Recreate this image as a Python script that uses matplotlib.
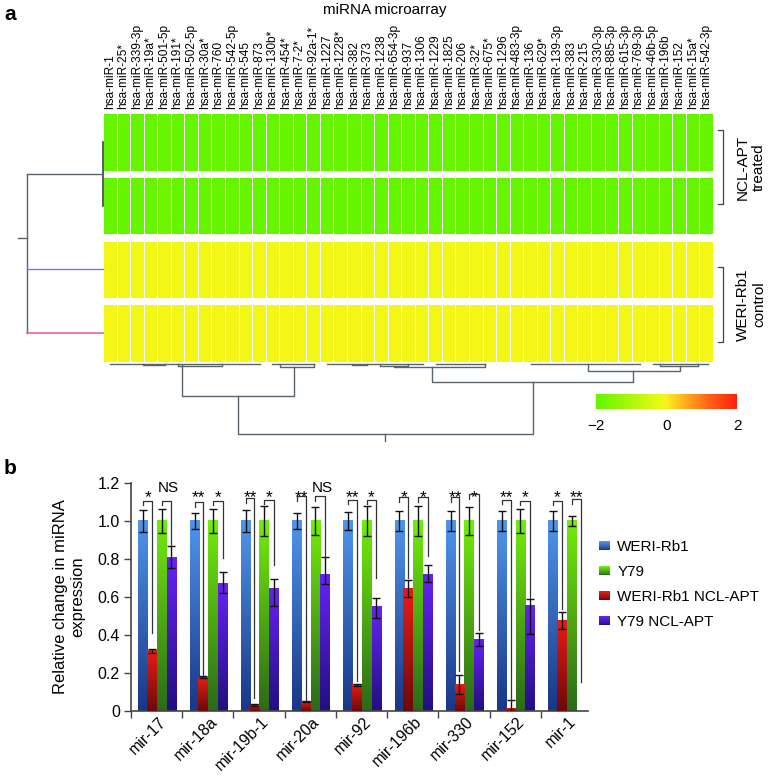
import numpy as np
import matplotlib
matplotlib.use("Agg")
import matplotlib.pyplot as plt
from matplotlib.colors import LinearSegmentedColormap
from matplotlib.patches import Rectangle
from matplotlib.legend_handler import HandlerBase
from matplotlib.transforms import ScaledTranslation

plt.rcParams['font.family'] = ['Liberation Sans', 'DejaVu Sans']

# ---- panel a : microarray heatmap ----
mirnas = ['hsa-miR-1', 'hsa-miR-25*', 'hsa-miR-339-3p', 'hsa-miR-19a*', 'hsa-miR-501-5p',
          'hsa-miR-191*', 'hsa-miR-502-5p', 'hsa-miR-30a*', 'hsa-miR-760', 'hsa-miR-542-5p',
          'hsa-miR-545', 'hsa-miR-873', 'hsa-miR-130b*', 'hsa-miR-454*', 'hsa-miR-7-2*',
          'hsa-miR-92a-1*', 'hsa-miR-1227', 'hsa-miR-1228*', 'hsa-miR-382', 'hsa-miR-373',
          'hsa-miR-1238', 'hsa-miR-654-3p', 'hsa-miR-937', 'hsa-miR-1306', 'hsa-miR-1229',
          'hsa-miR-1825', 'hsa-miR-206', 'hsa-miR-32*', 'hsa-miR-675*', 'hsa-miR-1296',
          'hsa-miR-483-3p', 'hsa-miR-136', 'hsa-miR-629*', 'hsa-miR-139-3p', 'hsa-miR-383',
          'hsa-miR-215', 'hsa-miR-330-3p', 'hsa-miR-885-3p', 'hsa-miR-615-3p', 'hsa-miR-769-3p',
          'hsa-miR-46b-5p', 'hsa-miR-196b', 'hsa-miR-152', 'hsa-miR-15a*', 'hsa-miR-542-3p']

treated_1 = [-1.95, -1.95, -1.95, -1.95, -1.93, -1.95, -1.95, -1.95, -1.95, -1.95,
             -1.95, -1.95, -1.95, -1.95, -1.95, -1.95, -1.95, -1.95, -1.95, -1.95,
             -1.95, -1.95, -1.95, -1.95, -1.95, -1.95, -1.95, -1.95, -1.95, -1.95,
             -1.95, -1.95, -1.95, -1.95, -1.95, -1.95, -1.95, -1.95, -1.95, -1.95,
             -1.95, -1.95, -1.95, -1.95, -1.95]
treated_2 = [-1.94, -1.94, -1.94, -1.94, -1.82, -1.94, -1.94, -1.94, -1.94, -1.94,
             -1.94, -1.94, -1.94, -1.94, -1.94, -1.94, -1.94, -1.94, -1.94, -1.94,
             -1.94, -1.94, -1.94, -1.94, -1.94, -1.94, -1.94, -1.94, -1.94, -1.94,
             -1.94, -1.94, -1.94, -1.94, -1.94, -1.94, -1.94, -1.94, -1.94, -1.94,
             -1.94, -1.94, -1.94, -1.94, -1.94]
control_1 = [-0.08, -0.08, -0.08, -0.08, -0.08, -0.08, -0.08, -0.08, -0.08, -0.08,
             -0.08, -0.08, -0.08, -0.08, -0.08, -0.08, -0.08, -0.08, -0.08, -0.08,
             -0.08, -0.08, -0.08, -0.08, -0.08, -0.08, -0.08, -0.08, -0.08, -0.08,
             -0.08, -0.08, -0.08, -0.08, -0.08, -0.08, -0.08, -0.08, -0.08, -0.08,
             -0.08, -0.08, -0.08, -0.08, -0.08]
control_2 = [-0.07, -0.07, -0.07, -0.07, -0.07, -0.07, -0.07, -0.07, -0.07, -0.07,
             -0.07, -0.07, -0.07, -0.07, -0.07, -0.07, -0.07, -0.07, -0.07, -0.07,
             -0.07, -0.07, -0.07, -0.07, -0.07, -0.07, -0.07, -0.07, -0.07, -0.07,
             -0.07, -0.07, -0.07, -0.07, -0.07, -0.07, -0.07, -0.07, -0.07, -0.07,
             -0.07, -0.07, -0.07, -0.07, -0.07]
row_groups = ['NCL-APT\ntreated', 'WERI-Rb1\ncontrol']

# column dendrogram links: (x left, x right, h left, h right, h top), x in columns
col_links = [(5.83, 14.09, 3, 5, 34), (9.96, 31.7, 34, 20, 72), (24.26, 39.1, 5, 9, 20),
             (35.8, 42.55, 2, 4, 9), (21.5, 28.2, 3.5, 2, 5), (2.95, 4.57, 2, 2, 3),
             (5.53, 8.78, 2, 2, 3.5), (13.05, 15.6, 2, 2, 4.5), (18.4, 19.5, 2, 2, 3),
             (20.4, 22.5, 2, 2, 3.5), (41.1, 43.9, 2, 2, 4)]
col_leaf_runs = [(0.5, 11.6), (12.5, 15.6), (16.5, 23.6), (24.6, 28.2), (31.6, 39.6), (40.6, 44.6)]
col_root = 79
row_link_height = 76
row_root = 85

# ---- panel b : qPCR bars ----
groups = ['mir-17', 'mir-18a', 'mir-19b-1', 'mir-20a', 'mir-92', 'mir-196b', 'mir-330', 'mir-152', 'mir-1']
weri = [1.0, 1.0, 1.0, 1.0, 1.0, 1.0, 1.0, 1.0, 1.0]
weri_err = [0.06, 0.044, 0.06, 0.044, 0.046, 0.053, 0.053, 0.053, 0.053]
y79 = [1.0, 1.0, 1.0, 1.0, 1.0, 1.0, 1.0, 1.0, 1.0]
y79_err = [0.064, 0.064, 0.077, 0.074, 0.077, 0.077, 0.074, 0.064, 0.024]
weri_apt = [0.317, 0.177, 0.033, 0.051, 0.138, 0.644, 0.138, 0.012, 0.475]
weri_apt_err = [0.01, 0.005, 0.005, 0.004, 0.006, 0.044, 0.05, 0.045, 0.045]
y79_apt = [0.81, 0.672, 0.647, 0.717, 0.551, 0.717, 0.375, 0.556, 0.0]
y79_apt_lo = [0.057, 0.052, 0.093, 0.049, 0.061, 0.04, 0.035, 0.15, 0.0]
y79_apt_hi = [0.057, 0.058, 0.048, 0.092, 0.043, 0.053, 0.035, 0.035, 0.0]

sig_1 = ['*', '**', '**', '**', '**', '*', '**', '**', '*']
sig_2 = ['NS', '*', '*', 'NS', '*', '*', '*', '*', '**']
br1_top = [1.107, 1.10, 1.12, 1.13, 1.112, 1.125, 1.125, 1.112, 1.107]
br1_end = [0.41, 0.19, 0.07, 0.06, 0.16, 0.70, 0.21, 0.054, 0.538]
br2_top = [1.107, 1.107, 1.112, 1.13, 1.112, 1.125, 1.14, 1.107, 1.117]
br2_end = [0.867, 0.807, 0.77, 0.81, 0.70, 0.814, 0.428, 0.595, 0.152]
yticks = [0, 0.2, 0.4, 0.6, 0.8, 1.0, 1.2]
ytick_labels = ['0', '0.2', '0.4', '0.6', '0.8', '1.0', '1.2']

W, H = 769, 776
fig = plt.figure(figsize=(W / 100, H / 100), dpi=100)


def box(x0, y0, x1, y1):
    # pixel box (top-left origin) -> figure fraction rect
    return [x0 / W, 1 - y1 / H, (x1 - x0) / W, (y1 - y0) / H]


line_col = '#59636b'
hm_cmap = LinearSegmentedColormap.from_list('hm', [(0, '#62f500'), (0.47, '#eefa12'), (0.5, '#fbf01c'),
                                                   (0.62, '#ffb41e'), (0.8, '#ff6414'), (1, '#ff1e0a')])
gap = 0.11
ax_hm = fig.add_axes(box(103, 113, 713, 362))
for i, row in enumerate([treated_1, treated_2, control_1, control_2]):
    y0 = i * (1 + gap)
    ax_hm.pcolormesh(np.arange(len(mirnas) + 1), [y0, y0 + 1], np.array([row]), cmap=hm_cmap,
                     vmin=-2, vmax=2, edgecolors='white', linewidth=0.6)
ax_hm.set_xlim(0, len(mirnas))
ax_hm.set_ylim(4 + 3 * gap, 0)
ax_hm.set_xticks(np.arange(len(mirnas)) + 0.5, mirnas, rotation=90, fontsize=8.6)
ax_hm.set_yticks([])
ax_hm.tick_params(axis='x', top=True, bottom=False, labeltop=True, labelbottom=False, length=0, pad=3)
for s in ax_hm.spines.values():
    s.set_visible(False)

# right-hand group brackets
for (ya, yb), lab in zip([(0.30, 1.58), (2.68, 3.98)], row_groups):
    ax_hm.plot([45.37, 45.74, 45.74, 45.37], [ya, ya, yb, yb], color='#444444', lw=0.9, clip_on=False)
    ax_hm.text(47.8, (ya + yb) / 2, lab, rotation=90, ha='center', va='center', fontsize=11,
               multialignment='center', clip_on=False)

# row dendrogram
rc = [i * (1 + gap) + 0.5 for i in range(4)]
ax_rd = fig.add_axes(box(15, 113, 103, 362))
ax_rd.set_xlim(88, 0)
ax_rd.set_ylim(4 + 3 * gap, 0)
ax_rd.axis('off')
mid01 = (rc[0] + rc[1]) / 2
ax_rd.plot([0, 0], [rc[0], rc[1]], color='#3a4148', lw=1.2, clip_on=False)
ax_rd.plot([0, row_link_height], [mid01, mid01], color=line_col, lw=1, clip_on=False)
ax_rd.plot([row_link_height, row_link_height], [mid01, rc[3]], color=line_col, lw=1, clip_on=False)
ax_rd.plot([0, row_link_height], [rc[2], rc[2]], color='#7878e8', lw=1, clip_on=False)
ax_rd.plot([0, row_link_height], [rc[3], rc[3]], color='#f0648c', lw=1.2, clip_on=False)
ax_rd.plot([row_link_height, row_root], [(rc[0] + rc[3]) / 2] * 2, color=line_col, lw=1, clip_on=False)

# column dendrogram
ax_cd = fig.add_axes(box(103, 362, 713, 445))
ax_cd.set_xlim(0, len(mirnas))
ax_cd.set_ylim(83, 0)
ax_cd.axis('off')
for a, b in col_leaf_runs:
    ax_cd.plot([a, b], [2, 2], color=line_col, lw=1)
for xl, xr, hl, hr, ht in col_links:
    ax_cd.plot([xl, xl, xr, xr], [hl, ht, ht, hr], color=line_col, lw=1)
xroot = (col_links[1][0] + col_links[1][1]) / 2
ax_cd.plot([xroot, xroot], [col_links[1][4], col_root], color=line_col, lw=1)

# colour key
cax = fig.add_axes(box(596, 394, 737, 409))
sm = plt.cm.ScalarMappable(cmap=hm_cmap, norm=plt.Normalize(-2, 2))
cb = fig.colorbar(sm, cax=cax, orientation='horizontal')
cb.outline.set_visible(False)
cb.set_ticks([-2, 0, 2], labels=['\u22122', '0', '2'])
cax.tick_params(length=0, pad=7, labelsize=11)

fig.text(0.5, 1 - 10 / H, 'miRNA microarray', ha='center', va='center', fontsize=11)
fig.text(4 / W, 1 - 14 / H, 'a', ha='left', va='center', fontsize=15, fontweight='bold')
fig.text(4 / W, 1 - 468 / H, 'b', ha='left', va='center', fontsize=15, fontweight='bold')

# ---- bar chart ----
ax = fig.add_axes(box(131, 483, 588, 711))
x = np.arange(len(groups))
offsets = [-0.26, -0.09, 0.10, 0.29]
bw = 0.19
series = [
    ('WERI-Rb1', weri, (weri_err, weri_err), '#4f95ea', '#1a3788', 2),
    ('WERI-Rb1 NCL-APT', weri_apt, (weri_apt_err, weri_apt_err), '#e81c14', '#6c0a0a', 3),
    ('Y79', y79, (y79_err, y79_err), '#72ec0c', '#2c6a1a', 2),
    ('Y79 NCL-APT', y79_apt, (y79_apt_lo, y79_apt_hi), '#6622f4', '#230f80', 2),
]
grad = np.linspace(0, 1, 64).reshape(-1, 1)
handles = {}
for k, (name, vals, (elo, ehi), ctop, cbot, z) in enumerate(series):
    cm = LinearSegmentedColormap.from_list(name, [cbot, ctop])
    xs = x + offsets[k]
    bars = ax.bar(xs, vals, bw, color='none', zorder=z)
    for b in bars:
        if b.get_height() <= 0:
            continue
        ax.imshow(grad, extent=[b.get_x(), b.get_x() + b.get_width(), 0, b.get_height()],
                  origin='lower', cmap=cm, aspect='auto', zorder=z, interpolation='bilinear')
    keep = np.array(vals) > 0
    ax.errorbar(xs[keep], np.array(vals)[keep],
                yerr=[np.array(elo)[keep], np.array(ehi)[keep]],
                fmt='none', ecolor='#111111', elinewidth=1, capsize=3, capthick=1, zorder=5)
    handles[name] = (Rectangle((0, 0), 1, 1), cm)

# significance brackets
for i in range(len(groups)):
    for (a, b), top, end, lab in [((0, 1), br1_top[i], br1_end[i], sig_1[i]),
                                  ((2, 3), br2_top[i], br2_end[i], sig_2[i])]:
        xa, xb = i + offsets[a], i + offsets[b]
        ax.plot([xa, xa, xb, xb], [top - 0.025, top, top, end], color='#333333', lw=0.9,
                zorder=6, clip_on=False)
        if lab == 'NS':
            ax.text((xa + xb) / 2 + 0.04, 1.15, lab, ha='center', va='baseline', fontsize=11, clip_on=False)
        else:
            ax.text((xa + xb) / 2, 1.10, lab, ha='center', va='baseline', fontsize=12.5, clip_on=False)

ax.set_xlim(-0.5, 8.42)
ax.set_ylim(0, 1.2)
ax.set_yticks(yticks, ytick_labels)
ax.set_xticks(x, groups, rotation=45, ha='right', rotation_mode='anchor', va='center')
ax.set_xticks(np.arange(len(groups)) - 0.5, minor=True)
ax.tick_params(axis='x', which='major', length=0, pad=6, labelsize=11.5)
ax.tick_params(axis='x', which='minor', length=5, width=1, color='#444444')
ax.tick_params(axis='y', length=5, width=1, color='#444444', labelsize=11.5, pad=3)
for lbl in ax.get_xticklabels():
    lbl.set_transform(lbl.get_transform() + ScaledTranslation(0.07, 0, fig.dpi_scale_trans))
for s in ['top', 'right']:
    ax.spines[s].set_visible(False)
for s in ['left', 'bottom']:
    ax.spines[s].set_color('#444444')
    ax.spines[s].set_linewidth(1.2)
ax.set_ylabel('Relative change in miRNA\nexpression', fontsize=12)
ax.yaxis.set_label_coords(-0.10, 0.5)


class GradientHandler(HandlerBase):
    def __init__(self, cmap):
        super().__init__()
        self.cmap = cmap

    def create_artists(self, legend, orig_handle, xdescent, ydescent, width, height, fontsize, trans):
        n = 10
        out = []
        for j in range(n):
            out.append(Rectangle((-xdescent, -ydescent + height * j / n), width, height / n * 1.05,
                                 facecolor=self.cmap(j / (n - 1)), lw=0, transform=trans))
        return out


order = ['WERI-Rb1', 'Y79', 'WERI-Rb1 NCL-APT', 'Y79 NCL-APT']
leg = fig.legend([handles[n][0] for n in order], order,
                 handler_map={handles[n][0]: GradientHandler(handles[n][1]) for n in order},
                 loc='upper left', bbox_to_anchor=(599 / W, 1 - 540 / H), frameon=False,
                 fontsize=11, handlelength=0.75, handleheight=0.6, handletextpad=0.45,
                 labelspacing=0.72, borderpad=0, borderaxespad=0)

fig.savefig('out.png', dpi=100)
